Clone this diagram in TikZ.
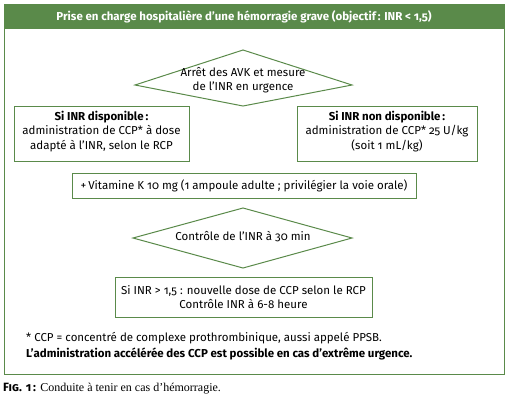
\documentclass[tikz,border=0pt]{standalone}
\usepackage{fontspec}
\setmainfont{Fira Sans}[Numbers=OldStyle]
\newfontfamily\capfont{Liberation Serif}
\usetikzlibrary{shapes.geometric}
\definecolor{fg}{HTML}{5A8A4A}
\tikzset{
  gbox/.style={draw=fg, line width=1pt},
  gdia/.style={draw=fg, line width=1pt},
  txt/.style={align=center, inner sep=0pt, font=\fontsize{11.5}{14.5}\selectfont}
}
\begin{document}
\begin{tikzpicture}[x=1pt,y=-1pt]
\useasboundingbox (0,0) rectangle (508,408);
% outer frame and header
\draw[fg, line width=1pt] (4,4) rectangle (504,374);
\fill[fg] (3.5,3.5) rectangle (504.5,29);
\node[font=\bfseries\fontsize{11.5}{12}\selectfont, text=white] (hdr) at (244,17) {Prise en charge hospitalière d’une hémorragie grave (objectif\,: INR < 1,5)};
% diamond 1
\draw[gdia] (135,85) -- (243,50) -- (352,85) -- (243,106) -- cycle;
\node[txt] (d1) at (243,80) {Arrêt des AVK et mesure\\de l’INR en urgence};
% left box
\draw[gbox] (14,106) rectangle (189,161);
\node[txt] (bl) at (101.5,131.5) {\textbf{Si INR disponible\,:}\\administration de CCP* à dose\\adapté à l’INR, selon le RCP};
% right box
\draw[gbox] (297,106) rectangle (477,161);
\node[txt] (br) at (387,131.5) {\textbf{Si INR non disponible\,:}\\administration de CCP* 25 U/kg\\(soit 1 mL/kg)};
% vitamin box
\draw[gbox] (72,173) rectangle (416,198);
\node[txt] (vit) at (244,185.5) {+\,Vitamine K 10 mg (1 ampoule adulte ; privilégier la voie orale)};
% diamond 2
\draw[gdia] (133,238) -- (243,208) -- (352,238) -- (243,268) -- cycle;
\node[txt] (d2) at (243,237) {Contrôle de l’INR à 30 min};
% final box
\draw[gbox] (115,277) rectangle (372,317);
\node[txt] (fin) at (243.5,297) {Si INR > 1,5 : nouvelle dose de CCP selon le RCP\\Contrôle INR à 6-8 heure};
% footnote
\node[anchor=west, align=left, inner sep=0pt, font=\fontsize{11.5}{15.5}\selectfont] (fn) at (26,346) {* CCP = concentré de complexe prothrombinique, aussi appelé PPSB.\\\textbf{L’administration accélérée des CCP est possible en cas d’extrême urgence.}};
% caption
\node[anchor=west, inner sep=0pt, font=\fontsize{12}{14}\selectfont] (cap) at (3,389) {{\bfseries\scshape Fig. 1\,:} {\capfont Conduite à tenir en cas d’hémorragie.}};
\end{tikzpicture}
\end{document}
